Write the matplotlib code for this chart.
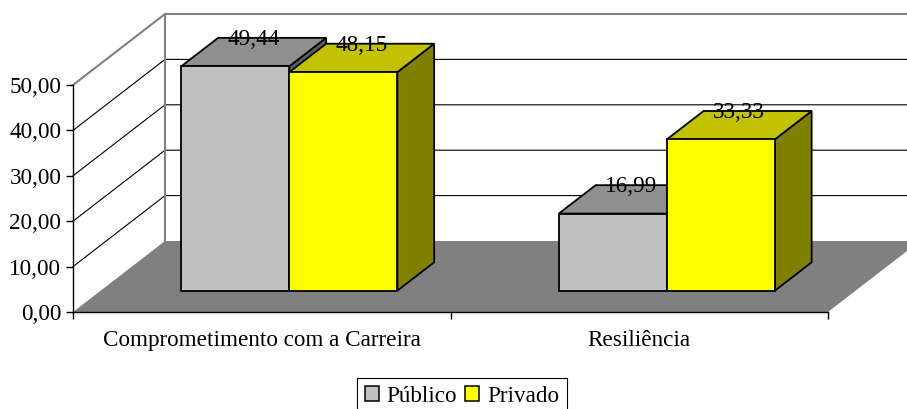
import matplotlib
matplotlib.use('Agg')
import matplotlib.pyplot as plt
from matplotlib.patches import Polygon, Patch

plt.rcParams['font.family'] = ['Liberation Serif', 'DejaVu Serif']

categories = ['Comprometimento com a Carreira', 'Resiliência']
series_names = ['Público', 'Privado']
publico = [49.44, 16.99]
privado = [48.15, 33.33]
y_ticks = [0, 10, 20, 30, 40, 50]

# 3D look: how far the back wall is shifted from the front plane (data units)
DEPTH_X = 92 / 377.5
DEPTH_Y = 71 / 4.54
BAR_WIDTH = 108 / 377.5
BAR_START = 0.3
BAR_DEPTH = 0.4
FONT = 16.7

front_colors = ['#c0c0c0', '#ffff00']
top_colors = ['#8f8f8f', '#c2c200']
side_colors = ['#606060', '#808000']


def fmt(v):
    return f'{v:.2f}'.replace('.', ',')


def shift(x, y, depth):
    return (x + DEPTH_X * depth, y + DEPTH_Y * depth)


fig = plt.figure(figsize=(9.07, 4.09), dpi=100)
ax = fig.add_axes([73 / 907, (409 - 312) / 409, 755 / 907, 227 / 409])
ax.set_xlim(0, 2)
ax.set_ylim(0, 50)


def poly(points, face, z, edge='none', lw=0):
    ax.add_patch(Polygon(points, closed=True, facecolor=face, edgecolor=edge,
                         linewidth=lw, clip_on=False, zorder=z, joinstyle='miter'))


# floor
poly([(0, 0), (2, 0), shift(2, 0, 1), shift(0, 0, 1)], '#808080', 1)

# walls and gridlines
for v in y_ticks[1:-1]:
    ax.plot([0, DEPTH_X, 2.4], [v, v + DEPTH_Y, v + DEPTH_Y], color='black', lw=0.8,
            clip_on=False, zorder=1)
ax.plot([0, DEPTH_X, 2.4], [50, 50 + DEPTH_Y, 50 + DEPTH_Y], color='#808080', lw=1.5,
        clip_on=False, zorder=1)
ax.plot([DEPTH_X, DEPTH_X], [DEPTH_Y, 50 + DEPTH_Y], color='#808080', lw=1.5,
        clip_on=False, zorder=1)

# bars
z = 3
for i in range(len(categories)):
    for j, vals in enumerate([publico, privado]):
        x0 = i + 0.5 + (j - 1) * BAR_WIDTH
        x_a, y_a = shift(x0, 0, BAR_START)
        x_b = x_a + BAR_WIDTH
        y_t = y_a + vals[i]
        dx = DEPTH_X * BAR_DEPTH
        dy = DEPTH_Y * BAR_DEPTH
        poly([(x_b, y_a), (x_b + dx, y_a + dy), (x_b + dx, y_t + dy), (x_b, y_t)],
             side_colors[j], z, 'black', 1.3)
        poly([(x_a, y_t), (x_b, y_t), (x_b + dx, y_t + dy), (x_a + dx, y_t + dy)],
             top_colors[j], z, 'black', 1.3)
        poly([(x_a, y_a), (x_b, y_a), (x_b, y_t), (x_a, y_t)],
             front_colors[j], z, 'black', 1.3)
        z += 1

# value labels
for i in range(len(categories)):
    for j, vals in enumerate([publico, privado]):
        x_c = i + 0.5 + (j - 0.5) * BAR_WIDTH + DEPTH_X * BAR_START + 18 / 377.5
        y_c = DEPTH_Y * BAR_START + vals[i] + 27 / 4.54
        ax.text(x_c, y_c, fmt(vals[i]), ha='center', va='center', fontsize=FONT,
                color='black', clip_on=False, zorder=20)

# axes
for s in ['top', 'right']:
    ax.spines[s].set_visible(False)
for s in ['left', 'bottom']:
    ax.spines[s].set_zorder(15)
    ax.spines[s].set_linewidth(1.0)
ax.patch.set_visible(False)
ax.set_yticks(y_ticks)
ax.set_yticklabels([fmt(v) for v in y_ticks], fontsize=FONT)
ax.set_xticks([0, 1, 2])
ax.set_xticklabels([])
ax.set_xticks([0.5, 1.5], minor=True)
ax.set_xticklabels(categories, minor=True, fontsize=FONT)
ax.tick_params(axis='x', which='minor', length=0, pad=13)
ax.tick_params(axis='both', which='major', length=5, width=1.0)

handles = [Patch(facecolor=front_colors[k], edgecolor='black', linewidth=1.1, label=series_names[k])
           for k in range(2)]
leg = fig.legend(handles=handles, loc='lower left', bbox_to_anchor=(357 / 907, -0.015), ncol=2,
                 fontsize=FONT, fancybox=False, framealpha=1, edgecolor='black',
                 handlelength=0.6, handleheight=0.6, handletextpad=0.33, columnspacing=0.35,
                 borderpad=0.35, borderaxespad=0)
leg.get_frame().set_linewidth(0.8)

fig.savefig('out.png', dpi=100)
